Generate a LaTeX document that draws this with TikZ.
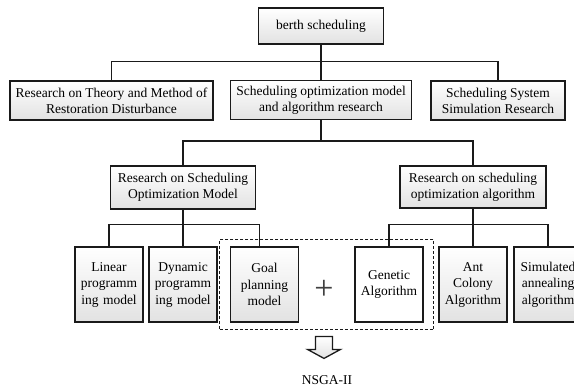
\documentclass[tikz,border=0pt]{standalone}
\usepackage{fontspec}
\setmainfont{Liberation Serif}
\usetikzlibrary{positioning,fit}
\definecolor{linec}{HTML}{1A1A1A}
\definecolor{boxtop}{HTML}{FFFFFF}
\definecolor{boxbot}{HTML}{E2E2E2}
\tikzset{
  box/.style={draw=linec,line width=1.5pt,top color=boxtop,bottom color=boxbot,align=center,inner sep=2pt,font=\fontsize{13.5}{16}\selectfont},
  leaf/.style={box,minimum width=66pt,minimum height=75pt,text width=64pt,font=\fontsize{13.5}{16.5}\selectfont},
  link/.style={draw=linec,line width=1.3pt},
  dashbox/.style={draw=linec,line width=1.3pt,dash pattern=on 3pt off 2pt,inner sep=0pt},
  blockar/.style={draw=linec,line width=1.3pt,top color=white,bottom color=boxbot}
}

\begin{document}
\begin{tikzpicture}[x=1pt,y=-1pt]
\useasboundingbox (0,0) rectangle (574,389);
\node[box,minimum width=125pt,minimum height=36pt] (root) at (321,26) {berth scheduling};
\node[box,minimum width=203pt,minimum height=39pt] (resto) at (111.5,100.5) {Research on Theory and Method of\\Restoration Disturbance};
\node[box,minimum width=181pt,minimum height=39pt] (optim) at (321,100) {Scheduling optimization model\\and algorithm research};
\node[box,minimum width=134pt,minimum height=39pt] (simul) at (498,100.5) {Scheduling System\\Simulation Research};
\node[box,minimum width=145pt,minimum height=43pt] (model) at (183,187.5) {Research on Scheduling\\Optimization Model};
\node[box,minimum width=146pt,minimum height=42pt] (algo) at (473,187) {Research on scheduling\\optimization algorithm};
\node[leaf] (linear) at (109,284.5) {Linear\\programm\\ing model};
\node[leaf] (dynamic) at (183,284.5) {Dynamic\\programm\\ing model};
\node[leaf] (goal) at (264.5,284.5) {Goal\\planning\\model};
\node[leaf,top color=white,bottom color=white] (genetic) at (389,284.5) {Genetic\\Algorithm};
\node[leaf] (ant) at (473,284.5) {Ant\\Colony\\Algorithm};
\node[leaf] (anneal) at (548,284.5) {Simulated\\annealing\\algorithm};
\node[dashbox,fit=(goal)(genetic),inner xsep=10pt,inner ysep=7pt] (combo) {};
\node[font=\fontsize{34}{34}\selectfont,text=black!75] (plus) at (324,290) {+};
\node[font=\fontsize{13.5}{15}\selectfont] (nsga) at (327,380) {NSGA-II};

\draw[link] (root) -- (optim);
\draw[link] (resto.north) -- ++(0,-19) -| (simul.north);
\draw[link] (optim) -- ++(0,41) coordinate (split);
\draw[link] (model.north) |- (split) -| (algo.north);
\draw[link] (model) -- (dynamic);
\draw[link] (linear.north) -- ++(0,-22) -| ([xshift=-5pt]goal.north);
\draw[link] (algo) -- (ant);
\draw[link] (genetic.north) -- ++(0,-22) -| (anneal.north);

\coordinate (artop) at ([yshift=-6pt]combo.south -| plus);
\draw[blockar] (artop) ++(-8.5,0) -- ++(17,0) -- ++(0,13) -- ++(8,0)
  -- ++(-16.5,9) -- ++(-16.5,-9) -- ++(8,0) -- cycle;
\end{tikzpicture}
\end{document}
